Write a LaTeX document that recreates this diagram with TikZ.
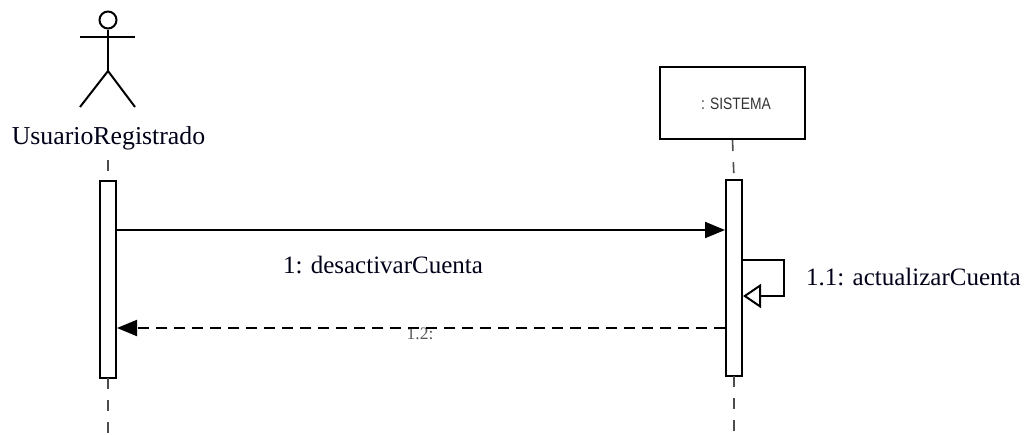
\documentclass[tikz,border=0pt]{standalone}
\usepackage{fontspec}
\setmainfont{Liberation Serif}
\newfontfamily\sysfont{Liberation Sans}
\usetikzlibrary{arrows.meta}
\begin{document}
\begin{tikzpicture}[x=1pt,y=-1pt,
  lbl/.style={font=\fontsize{25}{30}\selectfont, text=black!90!blue, inner sep=0pt},
  actbar/.style={draw, line width=2pt, fill=white, minimum width=16pt, inner sep=0pt},
  lifeline/.style={draw=black!70, line width=1.6pt, dash pattern=on 11pt off 11pt},
  msg/.style={line width=2pt, -{Triangle[length=20pt,width=16pt]}},
  ret/.style={line width=2pt, dash pattern=on 11pt off 7pt, -{Triangle[length=20pt,width=16pt]}},
  selfmsg/.style={line width=2pt, -{Triangle[open,length=18pt,width=24pt,line width=2pt]}}
]
\useasboundingbox (0,0) rectangle (1027,434);
% actor
\node[draw, circle, line width=2pt, minimum size=17pt, inner sep=0pt] (head) at (108,20) {};
\coordinate (armL) at (80,37);
\coordinate (armR) at (135,37);
\coordinate (hip) at (108,71);
\coordinate (legL) at (80,107);
\coordinate (legR) at (135,107);
\draw[line width=2pt] (armL) -- (armR);
\draw[line width=2pt] (head.south) -- (hip);
\draw[line width=2pt] (legL) -- (hip) -- (legR);
\node[lbl, font=\fontsize{25.8}{30}\selectfont] (actor) at (108.5,138) {UsuarioRegistrado};
% system
\node[draw, line width=2.3pt, minimum width=145pt, minimum height=72pt, inner sep=0pt] (sys) at (732.5,103) {};
\node[inner sep=0pt, font=\sysfont\fontsize{16.5}{18}\selectfont, text=black!80] (systxt) at (736,104) {\scalebox{0.84}[1]{: SISTEMA}};
% activation bars
\node[actbar, minimum height=197pt] (barA) at (108,279.5) {};
\node[actbar, minimum height=196pt] (barS) at (734,278) {};
% lifelines
\coordinate (llA1) at (108,160);
\coordinate (llAend) at (108,434);
\coordinate (llSend) at (734,434);
\draw[lifeline] (llA1) -- (barA.north);
\draw[lifeline] (sys.south) -- (barS.north);
\draw[lifeline] ([yshift=1pt]barA.south) -- (llAend);
\draw[lifeline] ([yshift=1pt]barS.south) -- (llSend);
% message 1
\draw[msg] (barA.east |- 0,230) -- (barS.west |- 0,230);
\node[lbl] (m1) at (383,265) {1: desactivarCuenta};
% self message
\coordinate (s1) at (barS.east |- 0,260);
\coordinate (s2) at (784,260);
\coordinate (s3) at (784,296);
\coordinate (s4) at (barS.east |- 0,296);
\draw[selfmsg] (s1) -- (s2) -- (s3) -- (s4);
\node[lbl, anchor=west] (m11) at (806,277) {1.1: actualizarCuenta};
% return
\node[inner sep=0pt, font=\fontsize{17.5}{20}\selectfont, text=black!65] (m12) at (420,334) {1.2:};
\draw[ret] (barS.west |- 0,328) -- (barA.east |- 0,328);
\end{tikzpicture}
\end{document}
